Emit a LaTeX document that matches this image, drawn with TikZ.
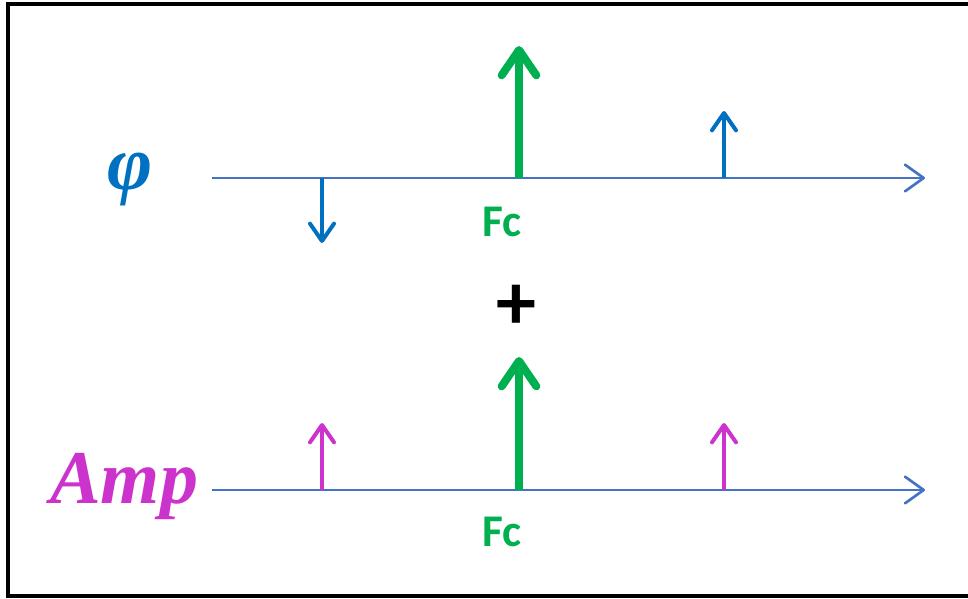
\documentclass[tikz,border=0pt]{standalone}
\usepackage{fontspec}
\newfontfamily\calfont{Carlito}
\newfontfamily\serffont{Liberation Serif}
\usetikzlibrary{arrows.meta}

\definecolor{axisblue}{HTML}{4472C4}
\definecolor{phiblue}{HTML}{0070C0}
\definecolor{fcgreen}{HTML}{00B050}
\definecolor{ampmag}{HTML}{CC33CC}

\begin{document}
\begin{tikzpicture}[x=0.75pt, y=-0.75pt,
  axis/.style={axisblue, line width=2pt, -{Straight Barb[round, length=14pt, width=20pt]}},
  carrier/.style={fcgreen, line width=6pt, -{Straight Barb[round, length=19pt, width=26pt]}},
  side/.style={line width=3pt, -{Straight Barb[round, length=13pt, width=18pt]}},
  fclabel/.style={fcgreen, inner sep=0pt, font=\calfont\bfseries\fontsize{34}{36}\selectfont}]
  \useasboundingbox (0,0) rectangle (968,599);
  \draw[line width=3pt] (8,4) rectangle (970,595.5);

  % phase line
  \coordinate (phiStart) at (212,178);
  \coordinate (phiEnd) at (925,178);
  \coordinate (phiLow) at (322,178);
  \coordinate (phiLowTip) at (322,243);
  \coordinate (phiMid) at (519,178);
  \coordinate (phiMidTip) at (519,46);
  \coordinate (phiHigh) at (724,178);
  \coordinate (phiHighTip) at (724,111);

  \draw[axis] (phiStart) -- (phiEnd);
  \draw[side, phiblue] (phiLow) -- (phiLowTip);
  \draw[side, phiblue] (phiHigh) -- (phiHighTip);
  \draw[carrier] (phiMid) -- (phiMidTip);
  \node[phiblue, inner sep=0pt, font=\serffont\bfseries\itshape\fontsize{58}{60}\selectfont] (phiLabel) at (130,179) {φ};
  \node[fclabel] (fcTop) at (502,222) {Fc};

  \node[inner sep=0pt, font=\calfont\bfseries\fontsize{60}{64}\selectfont] (plus) at (516,307) {+};

  % amplitude line
  \coordinate (ampStart) at (212,490);
  \coordinate (ampEnd) at (925,490);
  \coordinate (ampLow) at (322,490);
  \coordinate (ampLowTip) at (322,423);
  \coordinate (ampMid) at (519,490);
  \coordinate (ampMidTip) at (519,357);
  \coordinate (ampHigh) at (724,490);
  \coordinate (ampHighTip) at (724,423);

  \draw[axis] (ampStart) -- (ampEnd);
  \draw[side, ampmag] (ampLow) -- (ampLowTip);
  \draw[side, ampmag] (ampHigh) -- (ampHighTip);
  \draw[carrier] (ampMid) -- (ampMidTip);
  \node[ampmag, anchor=base west, inner sep=0pt, font=\serffont\bfseries\itshape\fontsize{57}{60}\selectfont] (ampLabel) at (50,503) {Amp};
  \node[fclabel] (fcBottom) at (502,532) {Fc};
\end{tikzpicture}
\end{document}
